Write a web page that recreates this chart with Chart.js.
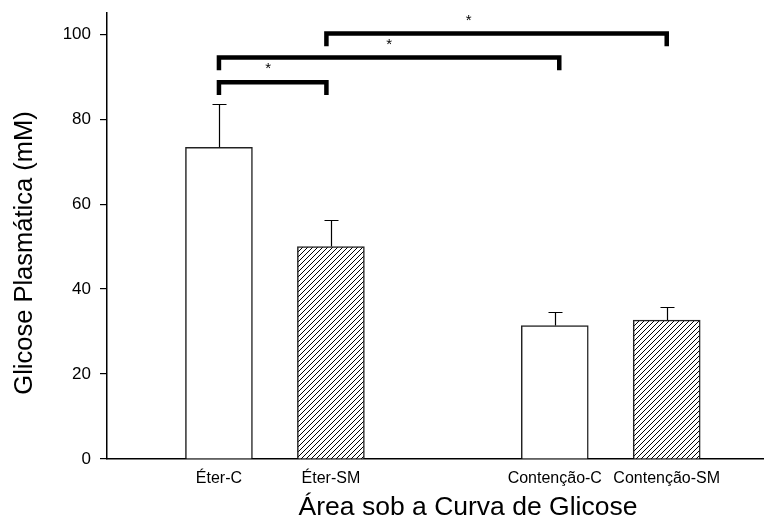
<!DOCTYPE html>
<html>
<head>
<meta charset="utf-8">
<script src="https://cdn.jsdelivr.net/npm/chart.js@4.4.1/dist/chart.umd.min.js"></script>
<style>
  html, body { margin: 0; padding: 0; background: #fff; }
  #wrap { width: 766px; height: 528px; }
</style>
</head>
<body>
<div id="wrap"><canvas id="chart"></canvas></div>
<script>
// groups and their slot on the x axis (slot 3 is left empty)
const groupLabels = ["Éter-C", "Éter-SM", "Contenção-C", "Contenção-SM"];
const groupSlots = [1, 2, 4, 5];
const meanValues = [73.4, 50.0, 31.4, 32.7];
const errValues = [10.1, 6.2, 3.3, 3.1];
const hatched = [false, true, false, true];

// significance brackets: ends (slots), bar height, star position
const bracketEnds = [[1.0, 1.96], [1.0, 4.04], [1.96, 5.0]];
const bracketLevels = [88.7, 94.5, 100.2];
const starX = [1.44, 2.52, 3.23];
const starY = [92.5, 98.1, 103.8];

const FONT = "'Liberation Sans', Arial, sans-serif";

function makeHatch() {
  const c = document.createElement("canvas");
  c.width = 5;
  c.height = 5;
  const g = c.getContext("2d");
  g.fillStyle = "#fff";
  g.fillRect(0, 0, 5, 5);
  g.strokeStyle = "#000";
  g.lineWidth = 1;
  g.beginPath();
  g.moveTo(-1, 6); g.lineTo(6, -1);
  g.moveTo(-1, 1); g.lineTo(1, -1);
  g.moveTo(4, 6); g.lineTo(6, 4);
  g.stroke();
  return g.createPattern(c, "repeat");
}
const hatch = makeHatch();

// error bars, brackets, stars and the axis titles
const extras = {
  id: "extras",
  afterDatasetsDraw(chart) {
    const ctx = chart.ctx;
    const xs = chart.scales.x;
    const ys = chart.scales.y;
    ctx.save();
    ctx.strokeStyle = "#000";
    ctx.fillStyle = "#000";

    ctx.lineWidth = 1.2;
    groupSlots.forEach((s, i) => {
      const x = Math.round(xs.getPixelForValue(s)) + 0.5;
      const y0 = ys.getPixelForValue(meanValues[i]);
      const y1 = Math.round(ys.getPixelForValue(meanValues[i] + errValues[i])) + 0.5;
      ctx.beginPath();
      ctx.moveTo(x, y0);
      ctx.lineTo(x, y1);
      ctx.moveTo(x - 7, y1);
      ctx.lineTo(x + 7, y1);
      ctx.stroke();
    });

    ctx.lineWidth = 4.5;
    ctx.lineJoin = "miter";
    bracketEnds.forEach((e, i) => {
      const xa = xs.getPixelForValue(e[0]);
      const xb = xs.getPixelForValue(e[1]);
      const yt = ys.getPixelForValue(bracketLevels[i]);
      const yb = ys.getPixelForValue(bracketLevels[i] - 3);
      ctx.beginPath();
      ctx.moveTo(xa, yb);
      ctx.lineTo(xa, yt);
      ctx.lineTo(xb, yt);
      ctx.lineTo(xb, yb);
      ctx.stroke();
    });

    ctx.font = "15px " + FONT;
    ctx.textAlign = "center";
    ctx.textBaseline = "middle";
    starX.forEach((sx, i) => {
      ctx.fillText("*", xs.getPixelForValue(sx), ys.getPixelForValue(starY[i]) + 3);
    });

    ctx.font = "26.5px " + FONT;
    ctx.fillText("Área sob a Curva de Glicose", 468, 508);
    ctx.translate(25, 253);
    ctx.rotate(-Math.PI / 2);
    ctx.font = "25.5px " + FONT;
    ctx.fillText("Glicose Plasmática (mM)", 0, 0);
    ctx.restore();
  }
};

new Chart(document.getElementById("chart"), {
  type: "bar",
  data: {
    datasets: [
      {
        data: groupSlots.map((s, i) => ({ x: s, y: meanValues[i] })),
        backgroundColor: hatched.map((h) => (h ? hatch : "#fff")),
        borderColor: "#222",
        borderWidth: 1.5,
        borderSkipped: "bottom",
        barThickness: 67,
      },
    ],
  },
  options: {
    responsive: true,
    maintainAspectRatio: false,
    animation: false,
    layout: { padding: { top: 13, right: 3, left: 0, bottom: 0 } },
    plugins: {
      legend: { display: false },
      tooltip: { enabled: false },
    },
    scales: {
      x: {
        type: "linear",
        offset: false,
        min: 0,
        max: 5.86,
        afterFit(s) { s.height = 69; },
        grid: { display: false, drawTicks: false, tickLength: 0 },
        border: { display: true, color: "#000", width: 1.5 },
        ticks: {
          stepSize: 1,
          includeBounds: false,
          autoSkip: false,
          maxRotation: 0,
          padding: 10,
          color: "#000",
          font: { family: FONT, size: 16 },
          callback: (v) => {
            const i = groupSlots.indexOf(v);
            return i >= 0 ? groupLabels[i] : "";
          },
        },
      },
      y: {
        min: 0,
        max: 105,
        afterFit(s) {
          s.width = 107;
          s.paddingTop = 0;
          s.paddingBottom = 0;
        },
        grid: { drawOnChartArea: false, drawTicks: true, tickLength: 7, color: "#000", lineWidth: 1.2 },
        border: { display: true, color: "#000", width: 1.5 },
        ticks: {
          stepSize: 20,
          includeBounds: false,
          padding: 9,
          color: "#000",
          font: { family: FONT, size: 17 },
        },
      },
    },
  },
  plugins: [extras],
});
</script>
</body>
</html>
